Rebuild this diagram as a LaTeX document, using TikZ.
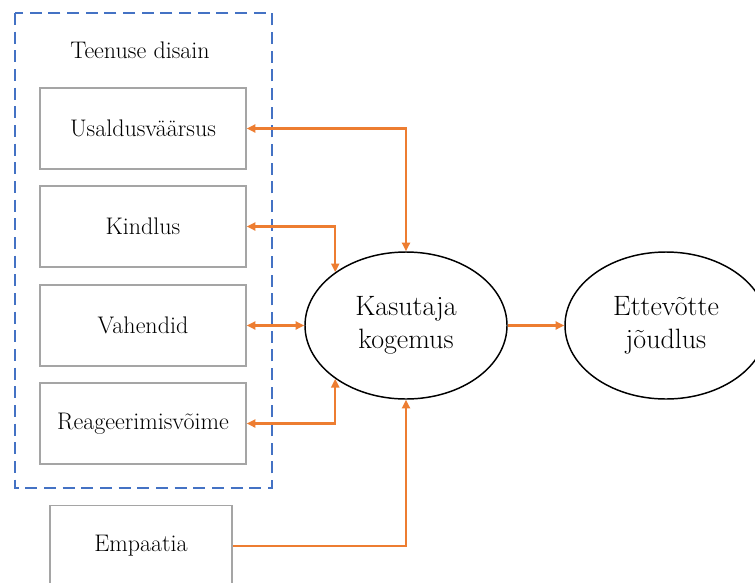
\documentclass[tikz,border=0pt]{standalone}
\usepackage{tikz}
\usetikzlibrary{arrows.meta,shapes.geometric}

\definecolor{orng}{HTML}{ED7D31}
\definecolor{blu}{HTML}{4472C4}
\definecolor{gry}{HTML}{A5A5A5}

\begin{document}
\begin{tikzpicture}[
    x=0.75pt, y=-0.75pt,
    every node/.style={font=\fontsize{18}{21}\selectfont},
    dim/.style={rectangle, draw=gry, line width=1.1pt, minimum width=154.5pt,
                minimum height=60.75pt, inner sep=0pt},
    elp/.style={ellipse, draw, line width=1.1pt, minimum width=151.5pt,
                minimum height=110.25pt, inner sep=0pt, align=center,
                font=\fontsize{21}{25}\selectfont},
    grp/.style={draw=blu, line width=1.8pt, dash pattern=on 9pt off 5pt},
    e/.style={draw=orng, line width=1.8pt, -{Triangle[length=6.5pt, width=6pt]}},
    ee/.style={e, {Triangle[length=6.5pt, width=6pt]}-{Triangle[length=6.5pt, width=6pt]}},
  ]
  \useasboundingbox (0,0) rectangle (755,582);
  \clip (0,0) rectangle (755,582);
  \draw[grp] (15,13) rectangle (272,488);
  \node (ttl) at (140,50) {Teenuse disain};
  \node[dim] (usa) at (143,128.5) {Usaldusväärsus};
  \node[dim] (kin) at (143,226.5) {Kindlus};
  \node[dim] (vah) at (143,325.5) {Vahendid};
  \node[dim] (rea) at (143,423.5) {Reageerimisvõime};
  \node[dim, minimum width=136.5pt] (emp) at (141,546) {Empaatia};
  \node[elp] (kog) at (406,325.5) {Kasutaja\\kogemus};
  \node[elp] (ett) at (666,325.5) {Ettevõtte\\jõudlus};
  \draw[ee] (usa.east) -| (kog.north);
  \draw[ee] (kin.east) -| (kog.143);
  \draw[ee] (vah.east) -- (kog.west);
  \draw[ee] (rea.east) -| (kog.217);
  \draw[e] (emp.east) -| (kog.south);
  \draw[e] (kog.east) -- (ett.west);
\end{tikzpicture}
\end{document}
